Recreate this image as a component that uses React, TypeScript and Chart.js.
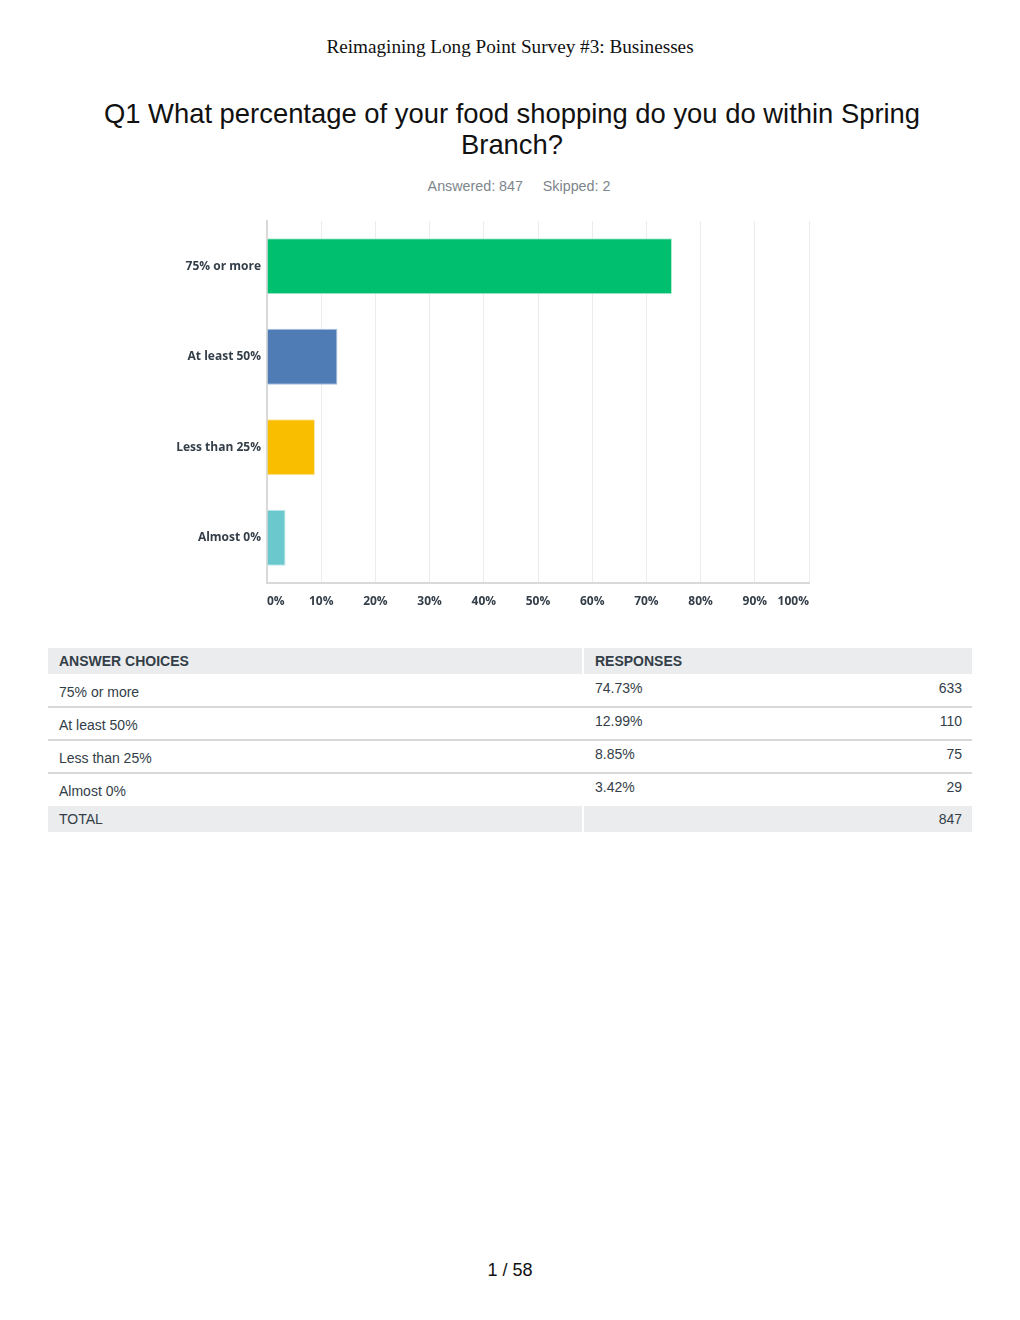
import React, { useEffect, useRef } from "react";
import { Chart, registerables } from "chart.js";

Chart.register(...registerables);

const categories = ["75% or more", "At least 50%", "Less than 25%", "Almost 0%"];
const percents = [74.73, 12.99, 8.85, 3.42];
const counts = [633, 110, 75, 29];
const percentLabels = ["74.73%", "12.99%", "8.85%", "3.42%"];
const totalCount = 847;
const skippedCount = 2;
const barColors = ["#00bf6f", "#507cb6", "#f9be00", "#6bc8cd"];
const barBorders = ["#b8ecd4", "#a9c0dd", "#fde4a0", "#c3e9eb"];

const SANS = "Arial, 'Liberation Sans', Helvetica, sans-serif";
const TEXT = "#333e48";

function BarChart() {
  const ref = useRef<HTMLCanvasElement>(null);
  useEffect(() => {
    if (!ref.current) return;
    const chart = new Chart(ref.current, {
      type: "bar",
      data: {
        labels: categories,
        datasets: [
          {
            data: percents,
            backgroundColor: barColors,
            borderColor: barBorders,
            borderWidth: 1,
            barPercentage: 0.62,
            categoryPercentage: 1,
          },
        ],
      },
      options: {
        indexAxis: "y",
        responsive: false,
        animation: false,
        devicePixelRatio: 1,
        layout: { padding: { left: 0, right: 21, top: 11, bottom: 0 } },
        plugins: { legend: { display: false }, tooltip: { enabled: false } },
        scales: {
          x: {
            min: 0,
            max: 100,
            afterFit: (s: any) => {
              s.height = 37;
              s.paddingLeft = 0;
              s.paddingRight = 0;
            },
            grid: { color: "#ececec", lineWidth: 1, drawTicks: false },
            border: { color: "#d9d9d9", width: 2 },
            ticks: {
              stepSize: 10,
              autoSkip: false,
              maxRotation: 0,
              align: "inner",
              padding: 11,
              color: TEXT,
              font: { family: "'Open Sans', sans-serif", size: 12, weight: "bold" },
              callback: (v: any) => v + "%",
            },
          },
          y: {
            afterFit: (s: any) => {
              s.width = 117;
              s.paddingTop = 0;
              s.paddingBottom = 0;
            },
            grid: { display: false, drawTicks: false },
            border: { color: "#d9d9d9", width: 2 },
            ticks: {
              padding: 6,
              color: TEXT,
              font: { family: "'Open Sans', sans-serif", size: 12, weight: "bold" },
            },
          },
        },
      },
    } as any);
    return () => chart.destroy();
  }, []);
  return (
    <canvas
      ref={ref}
      width={680}
      height={410}
      style={{ position: "absolute", left: 150, top: 210, width: 680, height: 410 }}
    />
  );
}

export default function App() {
  const rowTops = [674, 707, 740, 773];
  return (
    <div
      style={{
        position: "absolute",
        left: 0,
        top: 0,
        width: 1020,
        height: 1320,
        background: "#fff",
        overflow: "hidden",
      }}
    >
      <div
        style={{
          position: "absolute",
          left: 0,
          width: 1020,
          top: 35,
          lineHeight: "24px",
          textAlign: "center",
          fontFamily: "'Liberation Serif', 'Times New Roman', serif",
          fontSize: 19.2,
          color: "#111",
        }}
      >
        Reimagining Long Point Survey #3: Businesses
      </div>
      <div
        style={{
          position: "absolute",
          left: 2,
          width: 1020,
          top: 98,
          lineHeight: "31px",
          textAlign: "center",
          fontFamily: SANS,
          fontSize: 27.4,
          color: "#111",
        }}
      >
        Q1 What percentage of your food shopping do you do within Spring
        <br />
        Branch?
      </div>
      <div
        style={{
          position: "absolute",
          left: 9,
          width: 1020,
          top: 176,
          lineHeight: "20px",
          textAlign: "center",
          fontFamily: SANS,
          fontSize: 14.3,
          color: "#7d868c",
          whiteSpace: "pre",
        }}
      >
        {"Answered: " + totalCount + "     Skipped: " + skippedCount}
      </div>

      <BarChart />

      {/* table */}
      <div style={{ position: "absolute", left: 48, top: 648, width: 534, height: 26, background: "#ebeced" }} />
      <div style={{ position: "absolute", left: 584, top: 648, width: 388, height: 26, background: "#ebeced" }} />
      <div
        style={{
          position: "absolute",
          left: 59,
          top: 651,
          lineHeight: "20px",
          fontFamily: SANS,
          fontSize: 14,
          fontWeight: 700,
          color: TEXT,
        }}
      >
        ANSWER CHOICES
      </div>
      <div
        style={{
          position: "absolute",
          left: 595,
          top: 651,
          lineHeight: "20px",
          fontFamily: SANS,
          fontSize: 14,
          fontWeight: 700,
          color: TEXT,
        }}
      >
        RESPONSES
      </div>
      {categories.map((c, i) => (
        <React.Fragment key={c}>
          <div
            style={{
              position: "absolute",
              left: 59,
              top: rowTops[i] + 8,
              lineHeight: "20px",
              fontFamily: SANS,
              fontSize: 14,
              color: TEXT,
            }}
          >
            {c}
          </div>
          <div
            style={{
              position: "absolute",
              left: 595,
              top: rowTops[i] + 4,
              lineHeight: "20px",
              fontFamily: SANS,
              fontSize: 14,
              color: TEXT,
            }}
          >
            {percentLabels[i]}
          </div>
          <div
            style={{
              position: "absolute",
              left: 800,
              width: 162,
              top: rowTops[i] + 4,
              lineHeight: "20px",
              textAlign: "right",
              fontFamily: SANS,
              fontSize: 14,
              color: TEXT,
            }}
          >
            {counts[i]}
          </div>
          {i < categories.length - 1 && (
            <div
              style={{
                position: "absolute",
                left: 48,
                top: rowTops[i] + 32,
                width: 924,
                height: 2,
                background: "#d6d8d9",
              }}
            />
          )}
        </React.Fragment>
      ))}
      <div style={{ position: "absolute", left: 48, top: 806, width: 534, height: 26, background: "#ebeced" }} />
      <div style={{ position: "absolute", left: 584, top: 806, width: 388, height: 26, background: "#ebeced" }} />
      <div
        style={{
          position: "absolute",
          left: 59,
          top: 809,
          lineHeight: "20px",
          fontFamily: SANS,
          fontSize: 14,
          color: TEXT,
        }}
      >
        TOTAL
      </div>
      <div
        style={{
          position: "absolute",
          left: 800,
          width: 162,
          top: 809,
          lineHeight: "20px",
          textAlign: "right",
          fontFamily: SANS,
          fontSize: 14,
          color: TEXT,
        }}
      >
        {totalCount}
      </div>

      <div
        style={{
          position: "absolute",
          left: 0,
          width: 1020,
          top: 1258,
          lineHeight: "24px",
          textAlign: "center",
          fontFamily: SANS,
          fontSize: 18,
          color: "#111",
        }}
      >
        1 / 58
      </div>
    </div>
  );
}
